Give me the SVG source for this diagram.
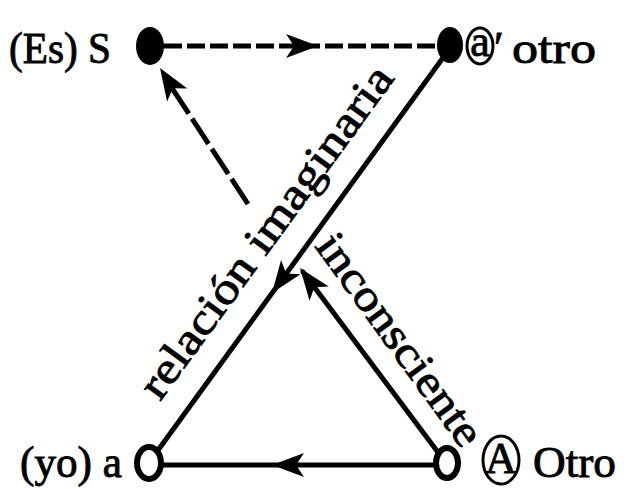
<svg xmlns="http://www.w3.org/2000/svg" width="626" height="489" viewBox="0 0 626 489">
<style>
  .lbl { font-family: "Liberation Serif", "DejaVu Serif", serif; font-size: 44px; fill: #000; stroke: #000; stroke-width: 0.9; }
  .rot { font-family: "Liberation Serif", "DejaVu Serif", serif; font-size: 44px; fill: #000; stroke: #000; stroke-width: 0.9; }
  .solid { stroke: #000; stroke-width: 5; fill: none; stroke-linecap: round; }
  .dash { stroke: #000; stroke-width: 5; fill: none; }
  .ring { fill: #fff; stroke: #000; stroke-width: 6; }
  .blob { fill: #000; }
  .circ { fill: none; stroke: #000; stroke-width: 3; }
  .arr { fill: #000; }
</style>
<defs>
  <path id="ah" d="M0,0 L-32,-12 L-24,0 L-32,12 Z"/>
</defs>
<rect width="626" height="489" fill="#fff"/>
<g id="connectors">
  <line class="dash" x1="164" y1="46" x2="436" y2="46" stroke-dasharray="18 5"/>
  <use href="#ah" class="arr" transform="translate(318,46)"/>
  <line class="solid" x1="445" y1="55" x2="156" y2="453"/>
  <use href="#ah" class="arr" transform="translate(272,293) rotate(126)"/>
  <line class="solid" x1="440" y1="455" x2="303" y2="272" stroke-width="6"/>
  <use href="#ah" class="arr" transform="translate(300,268) rotate(-126.8)"/>
  <line class="dash" x1="248" y1="204" x2="168" y2="82" stroke-dasharray="30 6"/>
  <use href="#ah" class="arr" transform="translate(160,68) rotate(-122.5)"/>
  <line class="solid" x1="160" y1="465" x2="437" y2="465" stroke-width="6"/>
  <use href="#ah" class="arr" transform="translate(272,465) rotate(180)"/>
  <text class="rot" transform="translate(160,402) rotate(-54)" textLength="400" lengthAdjust="spacingAndGlyphs">relación imaginaria</text>
  <text class="rot" transform="translate(314,246) rotate(54)" textLength="252" lengthAdjust="spacingAndGlyphs">inconsciente</text>
</g>
<g id="node-S">
  <ellipse class="blob" cx="150" cy="46" rx="14" ry="19"/>
  <text class="lbl" x="9" y="63" textLength="102" lengthAdjust="spacingAndGlyphs">(Es) S</text>
</g>
<g id="node-a-prime">
  <ellipse class="blob" cx="450" cy="45" rx="13" ry="18"/>
  <ellipse class="circ" cx="480" cy="46" rx="13" ry="18"/>
  <text class="lbl" x="480" y="56" font-size="30" text-anchor="middle">a</text>
  <text class="lbl" x="494" y="62">′</text>
  <text class="lbl" x="512" y="63" textLength="84" lengthAdjust="spacingAndGlyphs">otro</text>
</g>
<g id="node-a">
  <ellipse class="ring" cx="149" cy="463" rx="12" ry="16"/>
  <text class="lbl" x="20" y="477" textLength="102" lengthAdjust="spacingAndGlyphs">(yo) a</text>
</g>
<g id="node-A">
  <ellipse class="ring" cx="447" cy="463" rx="11" ry="15"/>
  <ellipse class="circ" cx="501" cy="460" rx="18" ry="24"/>
  <text class="lbl" x="501" y="473" font-size="36" text-anchor="middle">A</text>
  <text class="lbl" x="533" y="477" textLength="83" lengthAdjust="spacingAndGlyphs">Otro</text>
</g>
</svg>
